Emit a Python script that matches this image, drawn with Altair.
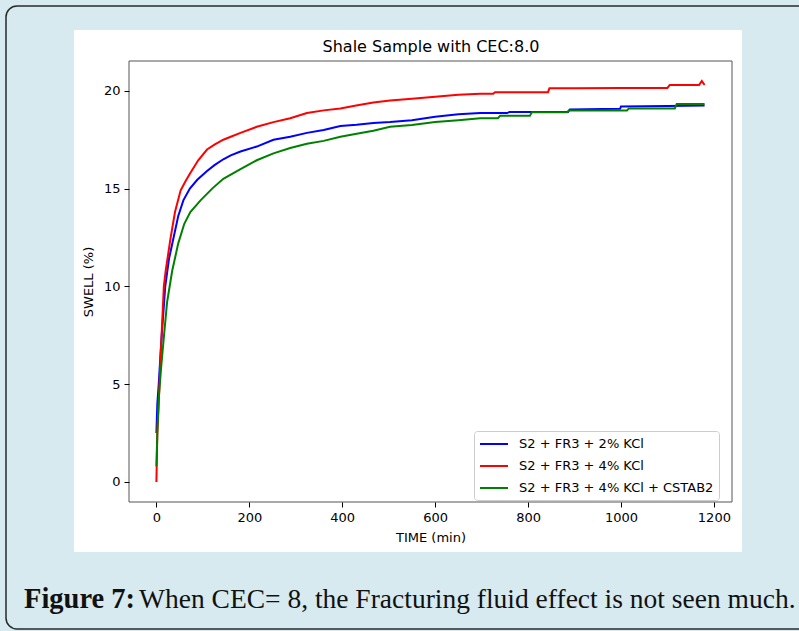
import altair as alt
import pandas as pd

# ---- data ----
labels = ["S2 + FR3 + 2% KCl", "S2 + FR3 + 4% KCl", "S2 + FR3 + 4% KCl + CSTAB2"]
colors = ["#0000ff", "#ff0000", "#008000"]

blue_t = [0, 2, 5, 10, 19, 27, 37, 47, 58, 72, 88, 109, 125, 144, 160, 181, 216, 252, 288, 324, 360,
          396, 431, 467, 503, 550, 600, 650, 697, 755, 760, 800, 811, 886, 890, 998, 1000, 1100, 1180]
blue_v = [2.5, 4.0, 5.0, 7.0, 10.0, 11.4, 12.5, 13.6, 14.4, 15.0, 15.45, 15.9, 16.2, 16.5, 16.7, 16.9,
          17.15, 17.5, 17.65, 17.85, 18.0, 18.2, 18.26, 18.36, 18.4, 18.5, 18.67, 18.8, 18.86, 18.86,
          18.92, 18.92, 18.92, 18.92, 19.05, 19.08, 19.2, 19.22, 19.25]

red_t = [0, 2, 5, 9, 16, 20, 30, 40, 52, 62, 73, 90, 109, 125, 144, 160, 181, 216, 252, 288, 324, 360,
         396, 430, 467, 503, 550, 600, 650, 697, 725, 729, 800, 843, 846, 900, 1000, 1100, 1105, 1168,
         1174, 1180]
red_v = [0, 2.5, 4.0, 6.4, 10.0, 10.8, 12.4, 13.8, 14.9, 15.35, 15.8, 16.45, 17.0, 17.25, 17.5, 17.65,
         17.85, 18.16, 18.4, 18.6, 18.87, 19.0, 19.1, 19.25, 19.4, 19.5, 19.6, 19.7, 19.8, 19.85, 19.85,
         19.93, 19.93, 19.93, 20.13, 20.13, 20.15, 20.15, 20.3, 20.3, 20.5, 20.3]

green_t = [0, 2, 5, 10, 16, 23, 34, 47, 60, 73, 95, 120, 144, 181, 216, 252, 288, 324, 360, 396, 431,
           467, 503, 550, 600, 650, 697, 735, 740, 804, 808, 884, 888, 1013, 1017, 1116, 1120, 1180]
green_v = [0.8, 2.5, 4.3, 5.8, 7.4, 9.2, 10.8, 12.2, 13.2, 13.8, 14.4, 15.0, 15.5, 16.0, 16.45, 16.8,
           17.08, 17.29, 17.44, 17.65, 17.8, 17.96, 18.16, 18.25, 18.4, 18.5, 18.6, 18.6, 18.72, 18.72,
           18.9, 18.9, 19.0, 19.0, 19.1, 19.1, 19.33, 19.33]

x_ticks = [0, 200, 400, 600, 800, 1000, 1200]
y_ticks = [0, 5, 10, 15, 20]

title_text = "Shale Sample with CEC:8.0"
caption_bold = "Figure 7:"
caption_rest = "When CEC= 8, the Fracturing fluid effect is not seen much."

rows = []
for lab, ts, vs in zip(labels, [blue_t, red_t, green_t], [blue_v, red_v, green_v]):
    for t, v in zip(ts, vs):
        rows.append({"t": t, "v": v, "series": lab})
df = pd.DataFrame(rows)

W, H = 603, 441
one = alt.Data(values=[{}])

border = alt.Chart(one).mark_rect(
    fill="#d7eaf0", fillOpacity=0, stroke="#2a2a2a", strokeWidth=1.5, cornerRadius=11
).encode(x=alt.value(-123), x2=alt.value(720), y=alt.value(-55), y2=alt.value(568))

panel = alt.Chart(one).mark_rect(fill="white").encode(
    x=alt.value(-55), x2=alt.value(613), y=alt.value(-31), y2=alt.value(491)
)

lines = alt.Chart(df).mark_line(strokeWidth=2, clip=True).encode(
    x=alt.X("t:Q", scale=alt.Scale(domain=[-59, 1239], nice=False, zero=False),
            axis=alt.Axis(values=x_ticks, format="d", title="TIME (min)", titlePadding=7, zindex=1)),
    y=alt.Y("v:Q", scale=alt.Scale(domain=[-1.025, 21.525], nice=False, zero=False),
            axis=alt.Axis(values=y_ticks, format="d", title="SWELL (%)", titlePadding=8, zindex=1)),
    color=alt.Color("series:N", scale=alt.Scale(domain=labels, range=colors),
                    legend=alt.Legend(title=None, orient="none", legendX=345, legendY=370)),
)

frame = alt.Chart(one).mark_rect(fillOpacity=0, stroke="#555555", strokeWidth=1).encode(
    x=alt.value(0), x2=alt.value(W), y=alt.value(0), y2=alt.value(H)
)

title = alt.Chart(one).mark_text(
    font="DejaVu Sans", fontSize=16, color="black", align="center", baseline="alphabetic"
).encode(x=alt.value(302), y=alt.value(-9), text=alt.value(title_text))

cap1 = alt.Chart(one).mark_text(
    font="Liberation Serif", fontSize=28.5, fontWeight="bold", color="#111111", align="left",
    baseline="alphabetic"
).encode(x=alt.value(-105), y=alt.value(547), text=alt.value(caption_bold))

cap2 = alt.Chart(one).mark_text(
    font="Liberation Serif", fontSize=27.5, color="#111111", align="left", baseline="alphabetic"
).encode(x=alt.value(10), y=alt.value(547), text=alt.value(caption_rest))

chart = alt.layer(border, panel, lines, frame, title, cap1, cap2).properties(
    width=W, height=H,
    autosize=alt.AutoSizeParams(type="none"),
    padding={"left": 129, "top": 61, "right": 67, "bottom": 129},
    background="#d7eaf0",
).configure_view(stroke=None, fill=None).configure_axis(
    grid=False, domain=False, tickColor="black", tickSize=5, tickWidth=1, labelPadding=4,
    labelFont="DejaVu Sans", labelFontSize=13, labelColor="black",
    titleFont="DejaVu Sans", titleFontSize=13, titleFontWeight="normal", titleColor="black",
).configure_legend(
    symbolType="M-1,0H3", symbolStrokeWidth=2, symbolSize=196, labelFont="DejaVu Sans",
    labelFontSize=13, labelColor="black", padding=5, rowPadding=7, strokeColor="#cccccc",
    fillColor="white", cornerRadius=3, labelOffset=24, labelLimit=400,
)

chart.save("out.html", embed_options={"renderer": "svg", "actions": False})
